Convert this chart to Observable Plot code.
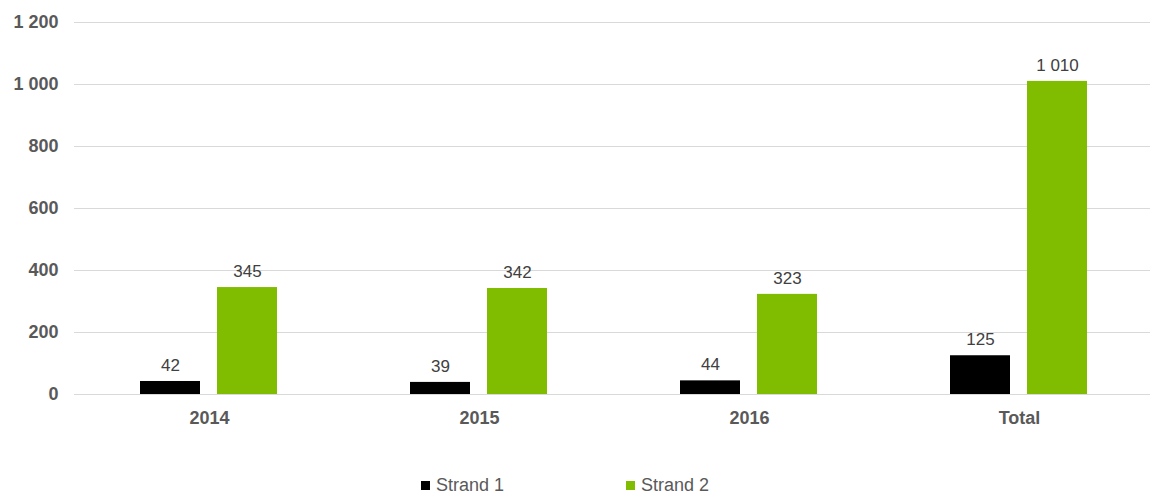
<!DOCTYPE html>
<html>
<head>
<meta charset="utf-8">
<script src="https://cdn.jsdelivr.net/npm/d3@7"></script>
<script src="https://cdn.jsdelivr.net/npm/@observablehq/plot@0.6"></script>
<style>
  html, body { margin: 0; padding: 0; background: #fff; overflow: hidden; }
  #wrap { width: 1150px; font-family: "Liberation Sans", Arial, sans-serif; }
  #legend { position: relative; width: 1150px; height: 47px; color: #595959; font-size: 18px; }
  .item { position: absolute; top: 25px; display: flex; align-items: center; height: 20px; }
  .sw { width: 9px; height: 9px; margin-right: 6px; }
</style>
</head>
<body>
<div id="wrap"></div>
<script>
const categories = ["2014", "2015", "2016", "Total"];
const seriesNames = ["Strand 1", "Strand 2"];
const strand1 = [42, 39, 44, 125];
const strand2 = [345, 342, 323, 1010];
const yTicks = [0, 200, 400, 600, 800, 1000, 1200];
const colors = ["#000000", "#80BC00"];

const fmt = d => d3.format(",")(d).replace(/,/g, " ");

const data = [];
categories.forEach((c, i) => {
  data.push({category: c, series: seriesNames[0], value: strand1[i]});
  data.push({category: c, series: seriesNames[1], value: strand2[i]});
});

const chart = Plot.plot({
  width: 1150,
  height: 450,
  marginLeft: 73,
  marginRight: -5,
  marginTop: 22,
  marginBottom: 56,
  style: {
    fontFamily: "'Liberation Sans', Arial, sans-serif",
    fontSize: "18px",
    fontWeight: "bold",
    color: "#595959",
    background: "#fff",
    overflow: "hidden"
  },
  fx: {domain: categories, padding: 0, label: null, tickSize: 0, tickPadding: 17},
  x: {domain: seriesNames, axis: null, paddingInner: 0.218, paddingOuter: 0.846},
  y: {domain: [0, 1200], ticks: yTicks, tickFormat: fmt, tickSize: 0, tickPadding: 16, label: null},
  color: {domain: seriesNames, range: colors},
  marks: [
    Plot.ruleY(yTicks, {stroke: "#d9d9d9", strokeWidth: 1}),
    Plot.barY(data, {fx: "category", x: "series", y: "value", fill: "series"}),
    Plot.text(data, {fx: "category", x: "series", y: "value", text: d => fmt(d.value), dy: -16, fill: "#404040", fontSize: 17, fontWeight: "normal"})
  ]
});

const wrap = document.getElementById("wrap");
wrap.appendChild(chart);

const legend = document.createElement("div");
legend.id = "legend";
const lefts = [421, 626];
seriesNames.forEach((s, i) => {
  const it = document.createElement("div");
  it.className = "item";
  it.style.left = lefts[i] + "px";
  const sw = document.createElement("div");
  sw.className = "sw";
  sw.style.background = colors[i];
  const t = document.createElement("span");
  t.textContent = s;
  it.appendChild(sw);
  it.appendChild(t);
  legend.appendChild(it);
});
wrap.appendChild(legend);
</script>
</body>
</html>
